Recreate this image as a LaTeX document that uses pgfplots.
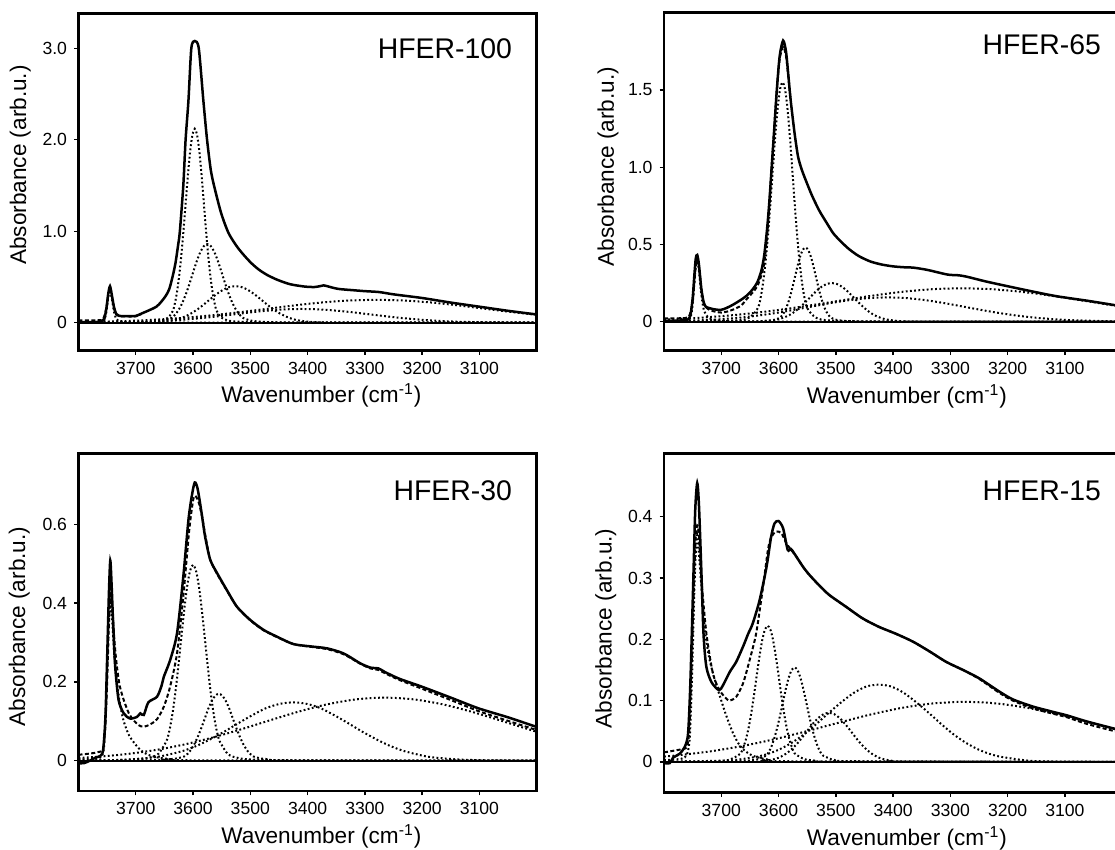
\documentclass[border=0pt]{standalone}
\usepackage{fontspec}
\setmainfont{Liberation Sans}
\usepackage{pgfplots}
\pgfplotsset{compat=1.18}

\pgfplotsset{
  irpanel/.style={
    scale only axis, width=229.1pt,
    x dir=reverse, xmin=3000, xmax=3800,
    xtick={3100,3200,3300,3400,3500,3600,3700},
    xticklabels={3100,3200,3300,3400,3500,3600,3700},
    xtick pos=bottom, ytick pos=left, tick align=outside,
    major tick length=2.2pt,
    tick style={black, line width=0.7pt},
    axis line style={line width=1.25pt},
    tick label style={font=\fontsize{8.8}{10}\selectfont},
    label style={font=\fontsize{11.3}{13}\selectfont},
    xlabel={Wavenumber (cm\textsuperscript{-1})},
    ylabel={Absorbance (arb.u.)},
  },
  meas/.style={black, line width=1.25pt, smooth, tension=0.45},
  fit/.style={black, line width=1pt, dash pattern=on 2pt off 1.2pt, smooth, tension=0.45},
  comp/.style={black, line width=1pt, dash pattern=on 0.9pt off 1.2pt, smooth, tension=0.45},
  zero/.style={black, line width=1pt},
}
\tikzset{paneltitle/.style={anchor=east, inner sep=0pt, font=\fontsize{14.2}{16}\selectfont}}

\begin{document}
\begin{tikzpicture}
\useasboundingbox (0,0) rectangle (557.5pt,-425pt);

% ---------------- HFER-100 ----------------
\begin{axis}[irpanel, at={(39.25pt,-175.25pt)}, anchor=south west, height=168.6pt,
  ymin=-0.304, ymax=3.383, ytick={0,1,2,3}, yticklabels={0,1.0,2.0,3.0},
  xlabel style={at={(axis description cs:0.53,-0.132)}, anchor=center},
  ylabel style={at={(axis description cs:-0.127,0.55)}, anchor=center}]
\addplot[comp] coordinates {(3800,0.002) (3770,0.003) (3760,0.006) (3755,0.025) (3751,0.13) (3748,0.28) (3745,0.36) (3742,0.27) (3738,0.12) (3734,0.04) (3729,0.013) (3720,0.005) (3700,0.001) (3600,0) (3000,0)};
\addplot[comp] coordinates {(3800,0) (3720,0.003) (3680,0.01) (3657.8,0.02) (3650.2,0.035) (3642.6,0.06) (3635,0.133) (3631.2,0.225) (3627.4,0.36) (3623.6,0.545) (3619.8,0.781) (3616,1.06) (3612.2,1.36) (3608.4,1.652) (3604.6,1.897) (3600.8,2.062) (3597,2.12) (3593.2,2.062) (3589.4,1.897) (3585.6,1.652) (3581.8,1.36) (3578,1.06) (3574.2,0.781) (3570.4,0.545) (3566.6,0.36) (3562.8,0.225) (3559,0.133) (3551.4,0.06) (3543.8,0.035) (3536.2,0.02) (3517,0.01) (3480,0.004) (3400,0.001) (3000,0)};
\addplot[comp] coordinates {(3800,0) (3700,0.002) (3674.2,0.008) (3661.8,0.014) (3649.4,0.025) (3637,0.054) (3630.8,0.091) (3624.6,0.146) (3618.4,0.221) (3612.2,0.317) (3606,0.43) (3599.8,0.552) (3593.6,0.67) (3587.4,0.77) (3581.2,0.8365) (3575,0.86) (3568.8,0.8365) (3562.6,0.77) (3556.4,0.67) (3550.2,0.552) (3544,0.43) (3537.8,0.317) (3531.6,0.221) (3525.4,0.146) (3519.2,0.091) (3513,0.054) (3500.6,0.025) (3488.2,0.014) (3475.8,0.008) (3445,0.003) (3400,0.001) (3000,0)};
\addplot[comp] coordinates {(3800,0) (3702,0.001) (3680,0.003) (3658,0.008) (3636,0.025) (3625,0.042) (3614,0.068) (3603,0.103) (3592,0.147) (3581,0.2) (3570,0.257) (3559,0.312) (3548,0.358) (3537,0.389) (3526,0.4) (3515,0.389) (3504,0.358) (3493,0.312) (3482,0.257) (3471,0.2) (3460,0.147) (3449,0.103) (3438,0.068) (3427,0.042) (3416,0.025) (3394,0.008) (3372,0.003) (3350,0.001) (3000,0)};
\addplot[comp] coordinates {(3800,0.001) (3746,0.003) (3690,0.0094) (3662,0.016) (3634,0.025) (3606,0.039) (3578,0.055) (3550,0.075) (3522,0.096) (3494,0.117) (3466,0.134) (3438,0.146) (3410,0.15) (3382,0.146) (3354,0.134) (3326,0.117) (3298,0.096) (3270,0.075) (3242,0.055) (3214,0.039) (3186,0.025) (3158,0.016) (3130,0.0094) (3074,0.003) (3018,0.001) (3000,0.0005)};
\addplot[comp] coordinates {(3800,0.006) (3730,0.0156) (3685,0.0265) (3640,0.0424) (3595,0.0643) (3550,0.0922) (3505,0.125) (3460,0.16) (3415,0.195) (3370,0.224) (3325,0.243) (3280,0.25) (3235,0.243) (3190,0.224) (3145,0.195) (3100,0.16) (3055,0.125) (3000,0.0865)};
\addplot[fit] coordinates {(3800,0.025) (3780,0.026) (3763,0.028) (3757,0.04) (3752,0.14) (3748,0.3) (3745,0.38) (3742,0.3) (3738,0.16) (3734,0.09) (3729,0.072) (3715,0.068) (3700,0.07) (3690,0.095)};
\addplot[meas] coordinates {(3800,0.004) (3785,0.006) (3770,0.007) (3760,0.012) (3755,0.04) (3751,0.17) (3748,0.32) (3745,0.40) (3742,0.31) (3738,0.17) (3734,0.095) (3729,0.075) (3715,0.071) (3700,0.074) (3690,0.1) (3677,0.135) (3664,0.175) (3656,0.225) (3648,0.29) (3642,0.36) (3637,0.47) (3631,0.64) (3626,0.85) (3623,1.0) (3617,1.5) (3613,2.0) (3608,2.43) (3603,3.0) (3597,3.08) (3590,3.0) (3582,2.43) (3575.5,2.0) (3569,1.67) (3563,1.49) (3551,1.2) (3538,0.98) (3523,0.83) (3510,0.73) (3498,0.65) (3485,0.58) (3470,0.52) (3452,0.467) (3430,0.42) (3405,0.395) (3388,0.39) (3378,0.4) (3372,0.408) (3365,0.398) (3347,0.37) (3320,0.355) (3300,0.345) (3275,0.335) (3250,0.31) (3200,0.27) (3150,0.22) (3100,0.175) (3050,0.13) (3000,0.09)};
\addplot[zero] coordinates {(3800,0) (3000,0)};
\node[paneltitle] at (axis description cs:0.947,0.896) {HFER-100};
\end{axis}

% ---------------- HFER-65 ----------------
\begin{axis}[irpanel, at={(332pt,-175.35pt)}, anchor=south west, height=169.2pt,
  ymin=-0.188, ymax=2.003, ytick={0,0.5,1,1.5}, yticklabels={0,0.5,1.0,1.5},
  xlabel style={at={(axis description cs:0.53,-0.136)}, anchor=center},
  ylabel style={at={(axis description cs:-0.122,0.544)}, anchor=center}]
\addplot[comp] coordinates {(3800,0.002) (3770,0.004) (3758,0.008) (3752,0.05) (3748,0.2) (3745,0.34) (3742,0.40) (3739,0.33) (3735,0.18) (3730,0.07) (3722,0.025) (3710,0.01) (3690,0.004) (3650,0.001) (3000,0)};
\addplot[comp] coordinates {(3800,0) (3713,0.003) (3678,0.007) (3660.2,0.014) (3651.8,0.025) (3643.4,0.05) (3635,0.097) (3630.8,0.164) (3626.6,0.263) (3622.4,0.398) (3618.2,0.571) (3614,0.775) (3609.8,0.995) (3605.6,1.208) (3601.4,1.387) (3597.2,1.508) (3593,1.55) (3588.8,1.508) (3584.6,1.387) (3580.4,1.208) (3576.2,0.995) (3572,0.775) (3567.8,0.571) (3563.6,0.398) (3559.4,0.263) (3555.2,0.164) (3551,0.097) (3542.6,0.05) (3534.2,0.025) (3525.8,0.014) (3508,0.007) (3473,0.003) (3400,0.001) (3000,0)};
\addplot[comp] coordinates {(3800,0) (3643,0.002) (3621.8,0.005) (3613.2,0.008) (3604.6,0.014) (3596,0.03) (3591.7,0.051) (3587.4,0.081) (3583.1,0.123) (3578.8,0.177) (3574.5,0.24) (3570.2,0.308) (3565.9,0.374) (3561.6,0.43) (3557.3,0.467) (3553,0.48) (3548.7,0.467) (3544.4,0.43) (3540.1,0.374) (3535.8,0.308) (3531.5,0.24) (3527.2,0.177) (3522.9,0.123) (3518.6,0.081) (3514.3,0.051) (3510,0.03) (3501.4,0.014) (3492.8,0.008) (3484.2,0.005) (3463,0.002) (3400,0) (3000,0)};
\addplot[comp] coordinates {(3800,0) (3660,0.0005) (3637.2,0.002) (3618.6,0.006) (3600,0.016) (3590.7,0.027) (3581.4,0.042) (3572.1,0.064) (3562.8,0.092) (3553.5,0.125) (3544.2,0.16) (3534.9,0.195) (3525.6,0.224) (3516.3,0.243) (3507,0.25) (3497.7,0.243) (3488.4,0.224) (3479.1,0.195) (3469.8,0.16) (3460.5,0.125) (3451.2,0.092) (3441.9,0.064) (3432.6,0.042) (3423.3,0.027) (3414,0.016) (3395.4,0.006) (3376.8,0.002) (3350,0.0005) (3000,0)};
\addplot[comp] coordinates {(3800,0.0025) (3730,0.0098) (3698,0.0166) (3666,0.0266) (3634,0.0404) (3602,0.0579) (3570,0.0785) (3538,0.1007) (3506,0.1223) (3474,0.1405) (3442,0.1527) (3410,0.157) (3378,0.1527) (3346,0.1405) (3314,0.1223) (3282,0.1007) (3250,0.0785) (3218,0.0579) (3186,0.0404) (3154,0.0266) (3122,0.0166) (3090,0.0098) (3026,0.0029) (3000,0.0017)};
\addplot[comp] coordinates {(3800,0.0135) (3748,0.0229) (3696,0.0366) (3644,0.0555) (3592,0.0796) (3540,0.108) (3488,0.1386) (3436,0.1683) (3384,0.1933) (3332,0.2101) (3280,0.216) (3228,0.2101) (3176,0.1933) (3124,0.1683) (3072,0.1386) (3020,0.108) (3000,0.097)};
\addplot[fit] coordinates {(3800,0.022) (3775,0.022) (3761,0.025) (3755,0.045) (3750,0.13) (3747,0.26) (3744,0.38) (3742,0.41) (3739,0.36) (3735,0.22) (3731,0.13) (3727,0.095) (3720,0.075) (3710,0.064) (3700,0.059) (3690,0.065) (3678,0.08) (3665,0.105) (3657,0.14) (3645,0.19) (3637,0.23) (3630,0.3) (3625,0.38) (3620,0.55) (3616,0.76) (3612,1.0) (3608,1.22) (3603,1.5) (3598,1.7) (3592,1.78) (3587,1.72) (3583,1.59) (3579,1.44)};
\addplot[meas] coordinates {(3800,0.005) (3785,0.006) (3770,0.008) (3759,0.012) (3754,0.04) (3750,0.15) (3747,0.3) (3744.5,0.41) (3742,0.432) (3739,0.37) (3735,0.22) (3731,0.13) (3727,0.097) (3715,0.082) (3701,0.076) (3690,0.09) (3678,0.113) (3665,0.143) (3655,0.17) (3645,0.21) (3637,0.255) (3630,0.33) (3625,0.43) (3620,0.6) (3616,0.78) (3612,1.0) (3608,1.22) (3603,1.5) (3598,1.72) (3592,1.82) (3587,1.75) (3583,1.6) (3579,1.44) (3572,1.22) (3566,1.07) (3560,0.99) (3554,0.93) (3542,0.82) (3529,0.72) (3516,0.64) (3504,0.57) (3490,0.515) (3477,0.47) (3460,0.425) (3440,0.39) (3420,0.37) (3400,0.358) (3380,0.352) (3365,0.35) (3340,0.335) (3305,0.305) (3285,0.3) (3270,0.29) (3240,0.262) (3202,0.231) (3160,0.198) (3115,0.165) (3060,0.135) (3013,0.107) (3000,0.1)};
\addplot[zero] coordinates {(3800,0) (3000,0)};
\node[paneltitle] at (axis description cs:0.9546,0.903) {HFER-65};
\end{axis}

% ---------------- HFER-30 ----------------
\begin{axis}[irpanel, at={(39.25pt,-395.5pt)}, anchor=south west, height=168.85pt,
  ymin=-0.077, ymax=0.78, ytick={0,0.2,0.4,0.6}, yticklabels={0,0.2,0.4,0.6},
  xlabel style={at={(axis description cs:0.53,-0.135)}, anchor=center},
  ylabel style={at={(axis description cs:-0.129,0.487)}, anchor=center}]
\addplot[comp] coordinates {(3800,0.003) (3770,0.005) (3760,0.01) (3755,0.04) (3751,0.18) (3748,0.33) (3744.5,0.40) (3741,0.35) (3737,0.26) (3733,0.2) (3727,0.14) (3721,0.1) (3712,0.065) (3700,0.04) (3690,0.025) (3680,0.016) (3665,0.009) (3640,0.004) (3600,0.001) (3000,0)};
\addplot[comp] coordinates {(3800,0) (3720,0.002) (3690,0.004) (3670,0.01) (3660,0.018) (3650,0.04) (3645,0.055) (3640,0.085) (3635,0.128) (3630,0.183) (3625,0.249) (3620,0.319) (3615,0.387) (3610,0.445) (3605,0.483) (3600,0.497) (3595,0.483) (3590,0.445) (3585,0.387) (3580,0.319) (3575,0.249) (3570,0.183) (3565,0.128) (3560,0.085) (3555,0.055) (3550,0.04) (3540,0.018) (3530,0.01) (3510,0.004) (3480,0.002) (3400,0) (3000,0)};
\addplot[comp] coordinates {(3800,0) (3680,0.001) (3639,0.004) (3627,0.006) (3615,0.011) (3609,0.018) (3603,0.029) (3597,0.044) (3591,0.063) (3585,0.085) (3579,0.109) (3573,0.133) (3567,0.152) (3561,0.165) (3555,0.17) (3549,0.165) (3543,0.152) (3537,0.133) (3531,0.109) (3525,0.085) (3519,0.063) (3513,0.044) (3507,0.029) (3501,0.018) (3495,0.011) (3483,0.006) (3471,0.004) (3430,0.001) (3000,0)};
\addplot[comp] coordinates {(3800,0) (3761,0.0007) (3713,0.003) (3665,0.009) (3641,0.016) (3617,0.025) (3593,0.038) (3569,0.055) (3545,0.074) (3521,0.095) (3497,0.115) (3473,0.133) (3449,0.144) (3425,0.148) (3401,0.144) (3377,0.133) (3353,0.115) (3329,0.095) (3305,0.074) (3281,0.055) (3257,0.038) (3233,0.025) (3209,0.016) (3185,0.009) (3137,0.003) (3089,0.001) (3000,0)};
\addplot[comp] coordinates {(3800,0.0067) (3765,0.01) (3715,0.0169) (3665,0.0271) (3615,0.0411) (3565,0.059) (3515,0.08) (3465,0.1027) (3415,0.1247) (3365,0.1432) (3315,0.1556) (3265,0.16) (3215,0.1556) (3165,0.1432) (3115,0.1247) (3065,0.1027) (3015,0.08) (3000,0.0734)};
\addplot[fit] coordinates {(3800,0.015) (3780,0.018) (3765,0.022) (3757,0.03) (3753,0.09) (3750,0.2) (3747,0.34) (3744.5,0.425) (3741,0.39) (3737,0.3) (3733,0.24) (3728,0.19) (3721,0.154) (3712,0.12) (3704,0.103) (3695,0.09) (3686,0.086) (3675,0.092) (3663,0.105) (3651,0.137) (3640,0.188) (3628,0.272) (3617,0.416) (3607,0.58) (3600,0.66) (3596,0.672) (3590,0.655) (3584,0.618) (3578,0.567) (3570,0.51) (3558,0.474) (3541,0.432) (3523,0.39) (3500,0.356) (3477,0.331) (3454,0.314) (3425,0.296) (3395,0.289) (3366,0.283) (3337,0.27) (3308,0.246) (3290,0.234) (3276,0.23) (3265,0.222) (3240,0.205) (3201,0.183) (3150,0.154) (3102,0.126) (3050,0.101) (3005,0.08) (3000,0.078)};
\addplot[meas] coordinates {(3800,-0.007) (3790,-0.006) (3780,0.0) (3770,0.008) (3762,0.012) (3757,0.027) (3753,0.11) (3750,0.26) (3747,0.42) (3744.5,0.508) (3742,0.44) (3739,0.33) (3736,0.24) (3730,0.154) (3721,0.12) (3710,0.107) (3698,0.111) (3692,0.12) (3686,0.116) (3678,0.148) (3663,0.162) (3655,0.19) (3651,0.213) (3640,0.255) (3628,0.323) (3617,0.467) (3608,0.611) (3602,0.673) (3597,0.706) (3592,0.69) (3585,0.628) (3579,0.569) (3570,0.51) (3558,0.476) (3541,0.433) (3523,0.39) (3500,0.357) (3477,0.332) (3454,0.315) (3425,0.296) (3395,0.29) (3366,0.285) (3337,0.272) (3308,0.247) (3290,0.236) (3276,0.234) (3265,0.225) (3240,0.208) (3201,0.188) (3150,0.16) (3102,0.133) (3050,0.11) (3005,0.088) (3000,0.086)};
\addplot[zero] coordinates {(3800,0) (3000,0)};
\node[paneltitle] at (axis description cs:0.947,0.889) {HFER-30};
\end{axis}

% ---------------- HFER-15 ----------------
\begin{axis}[irpanel, at={(332pt,-396.25pt)}, anchor=south west, height=169.6pt,
  ymin=-0.05, ymax=0.5035, ytick={0,0.1,0.2,0.3,0.4}, yticklabels={0,0.1,0.2,0.3,0.4},
  xlabel style={at={(axis description cs:0.53,-0.135)}, anchor=center},
  ylabel style={at={(axis description cs:-0.127,0.484)}, anchor=center}]
\addplot[comp] coordinates {(3800,0.003) (3770,0.005) (3760,0.012) (3755,0.04) (3751,0.14) (3747,0.28) (3744,0.35) (3742,0.37) (3739,0.34) (3735,0.29) (3728,0.21) (3720,0.165) (3710,0.13) (3700,0.1) (3690,0.072) (3680,0.048) (3670,0.03) (3660,0.019) (3645,0.01) (3620,0.004) (3580,0.001) (3000,0)};
\addplot[comp] coordinates {(3800,0) (3700,0.002) (3684.8,0.004) (3675.4,0.008) (3666,0.014) (3661.3,0.024) (3656.6,0.038) (3651.9,0.057) (3647.2,0.082) (3642.5,0.111) (3637.8,0.143) (3633.1,0.173) (3628.4,0.199) (3623.7,0.216) (3619,0.222) (3614.3,0.216) (3609.6,0.199) (3604.9,0.173) (3600.2,0.143) (3595.5,0.111) (3590.8,0.082) (3586.1,0.057) (3581.4,0.038) (3576.7,0.024) (3572,0.014) (3562.6,0.008) (3553.2,0.004) (3535,0.002) (3500,0) (3000,0)};
\addplot[comp] coordinates {(3800,0) (3680,0.001) (3642,0.003) (3632,0.006) (3622,0.01) (3617,0.016) (3612,0.026) (3607,0.04) (3602,0.057) (3597,0.077) (3592,0.099) (3587,0.12) (3582,0.138) (3577,0.15) (3572,0.154) (3567,0.15) (3562,0.138) (3557,0.12) (3552,0.099) (3547,0.077) (3542,0.057) (3537,0.04) (3532,0.026) (3527,0.016) (3522,0.01) (3512,0.006) (3502,0.003) (3460,0.001) (3000,0)};
\addplot[comp] coordinates {(3800,0) (3642,0.0004) (3623.6,0.0015) (3605,0.005) (3595.7,0.0085) (3586.4,0.0136) (3577.1,0.0206) (3567.8,0.0295) (3558.5,0.04) (3549.2,0.0513) (3539.9,0.0623) (3530.6,0.0716) (3521.3,0.0778) (3512,0.08) (3502.7,0.0778) (3493.4,0.0716) (3484.1,0.0623) (3474.8,0.0513) (3465.5,0.04) (3456.2,0.0295) (3446.9,0.0206) (3437.6,0.0136) (3428.3,0.0085) (3419,0.005) (3400.4,0.0015) (3381.8,0.0004) (3000,0)};
\addplot[comp] coordinates {(3800,0) (3726,0.0006) (3683,0.0023) (3640,0.008) (3618.5,0.013) (3597,0.021) (3575.5,0.032) (3554,0.046) (3532.5,0.063) (3511,0.081) (3489.5,0.098) (3468,0.113) (3446.5,0.123) (3425,0.126) (3403.5,0.123) (3382,0.113) (3360.5,0.098) (3339,0.081) (3317.5,0.063) (3296,0.046) (3274.5,0.032) (3253,0.021) (3231.5,0.013) (3210,0.008) (3167,0.0023) (3124,0.0006) (3000,0)};
\addplot[comp] coordinates {(3800,0.0086) (3779,0.0104) (3723,0.0166) (3667,0.0252) (3611,0.0361) (3555,0.049) (3499,0.0629) (3443,0.0764) (3387,0.0877) (3331,0.0953) (3275,0.098) (3219,0.0953) (3163,0.0877) (3107,0.0764) (3051,0.0629) (3013,0.0534) (3000,0.050)};
\addplot[fit] coordinates {(3800,0.0155) (3767,0.021) (3760,0.025) (3756,0.05) (3752,0.15) (3748,0.28) (3745,0.36) (3742,0.386) (3739,0.37) (3735,0.302) (3726,0.21) (3714.5,0.144) (3703,0.117) (3691,0.103) (3685,0.1) (3674,0.106) (3662,0.128) (3650.5,0.166) (3639,0.21) (3627,0.286) (3618.5,0.346) (3612.6,0.367) (3604,0.376) (3595,0.373) (3586.5,0.357) (3578,0.346) (3569,0.335) (3557,0.318) (3546,0.305) (3528,0.287) (3511,0.272) (3482,0.253) (3453,0.234) (3424,0.22) (3395,0.209) (3365,0.196) (3336,0.18) (3307,0.163) (3278,0.15) (3249,0.135) (3215,0.113) (3191,0.1) (3155,0.087) (3114,0.077) (3097,0.073) (3062,0.062) (3013,0.05) (3000,0.047)};
\addplot[meas] coordinates {(3800,-0.002) (3790,-0.002) (3784,0.007) (3773,0.013) (3764,0.024) (3758,0.046) (3754,0.128) (3749,0.291) (3745.5,0.41) (3742,0.455) (3739,0.42) (3735,0.318) (3731,0.209) (3726,0.155) (3717,0.13) (3704,0.117) (3697,0.125) (3685,0.147) (3674,0.163) (3662,0.188) (3653,0.209) (3645,0.226) (3633,0.264) (3621,0.318) (3613,0.367) (3607,0.389) (3600,0.393) (3592,0.381) (3584,0.346) (3578,0.347) (3569,0.335) (3557,0.318) (3546,0.305) (3528,0.287) (3511,0.272) (3482,0.253) (3453,0.234) (3424,0.22) (3395,0.209) (3365,0.196) (3336,0.18) (3307,0.163) (3278,0.15) (3249,0.136) (3215,0.115) (3191,0.102) (3155,0.09) (3114,0.08) (3097,0.076) (3062,0.066) (3013,0.054) (3000,0.051)};
\addplot[zero] coordinates {(3800,0) (3000,0)};
\node[paneltitle] at (axis description cs:0.9546,0.89) {HFER-15};
\end{axis}
\end{tikzpicture}
\end{document}
